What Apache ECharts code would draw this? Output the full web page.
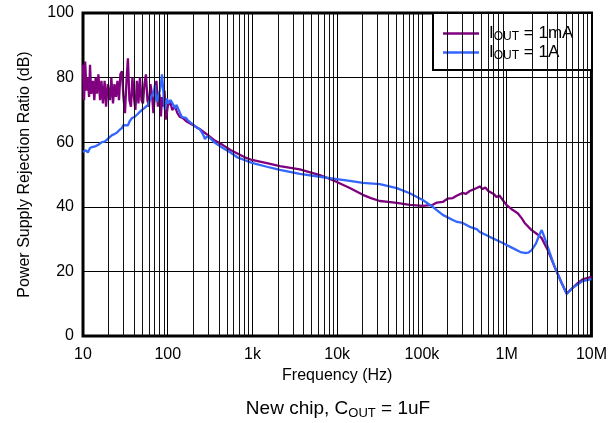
<!DOCTYPE html>
<html>
<head>
<meta charset="utf-8">
<script src="https://cdn.jsdelivr.net/npm/echarts@6/dist/echarts.min.js"></script>
<style>
  html, body { margin: 0; padding: 0; background: #fff; }
  #chart { width: 610px; height: 423px; }
</style>
</head>
<body>
<div id="chart"></div>
<script>
// PSRR vs frequency, IOUT = 1mA
const freq1mA = [
  10, 10.3, 10.6, 11.0, 11.4, 11.8, 12.1, 12.5, 13.1, 13.6, 14.1, 14.6, 15.2, 15.9, 16.5, 17.2,
  18.0, 18.7, 19.6, 20.8, 21.6, 22.6, 23.5, 24.5, 25.5, 26.6, 27.6, 28.8, 30.0, 31.3, 32.6, 33.9,
  35.3, 36.8, 38.3, 39.9, 41.5, 43.3, 45.1, 47.0, 49.0, 51.0, 53.1, 55.3, 57.6, 60.0, 62.5, 65.1,
  67.8, 70.6, 73.5, 76.6, 79.8, 83.1, 85.5, 87.8, 91.5, 95.2, 100, 106, 113, 122, 130, 139, 150, 165,
  198, 240, 298, 360, 448, 550, 655, 800, 984, 1479, 2105, 3620, 6237, 8185, 9890, 14080, 20050,
  25000, 31780, 40000, 50440, 71800, 102000, 134000, 150000, 176000, 200000, 231000, 260000,
  303000, 330000, 366000, 400000, 443000, 460000, 481000, 520000, 560000, 600000, 631000, 700000,
  760000, 820000, 898000, 1.0e6, 1.18e6, 1.35e6, 1.5e6, 1.63e6, 1.8e6, 1.97e6, 2.3e6, 2.59e6,
  2.8e6, 3.05e6, 3.68e6, 4.45e6, 5.1e6, 6.0e6, 7.0e6, 7.87e6, 1.0e7
];
const psrr1mA = [
  84, 73, 85, 76, 80, 74, 84, 75, 79, 73, 80, 75, 81, 73, 79, 72,
  79, 71, 78, 73, 80, 72, 78, 74, 79, 73, 81, 82, 74, 69, 79, 86,
  73, 71, 80, 74, 70, 79, 72, 80, 73, 72, 78, 81, 73, 71, 78, 75,
  69, 75, 79, 71, 75, 68, 74, 71, 76, 67, 71, 73, 70, 71, 69, 67.8, 67.5, 66.5,
  65.3, 64, 62.2, 60.5, 59.1, 57.6, 56.6, 55.4, 54.5, 53.5, 52.6, 51.6, 49.8, 48.6, 47.7, 45.8, 43.7,
  42.7, 41.8, 41.5, 41.2, 40.6, 40.3, 40.6, 41.3, 41.5, 42.5, 42.7, 43.5,
  44.3, 44.0, 44.9, 45.3, 45.8, 45.2, 46.3, 45.5, 46.0, 45.0, 44.6, 44.0,
  43.0, 43.5, 42.1, 40.5, 39, 38, 36.5, 35, 33.8, 32.8, 31.5, 30.3,
  28.5, 26.6, 21.4, 16.4, 13.2, 14.9, 16.5, 17.5, 18.3
];

// PSRR vs frequency, IOUT = 1A
const freq1A = [
  10, 10.4, 10.8, 11.4, 12.1, 12.8, 13.5, 14.2, 15.2, 16.7, 18.0, 19.2, 20.5, 22.0, 23.5, 25.2,
  27.0, 28.8, 30.0, 31.3, 33.9, 35.5, 37.9, 40.5, 43.3, 46.5, 49.7, 52.5, 55.3, 58.0, 60.0, 62.5,
  65.1, 68.7, 70.6, 72.5, 74.6, 77.5, 80.9, 83.0, 85.5, 88.0, 90.3, 92.7, 95.2, 97.9, 100.5, 103,
  108, 112, 117, 122, 127, 132, 140, 147, 155, 164, 173, 183, 198, 220, 240, 260, 275, 290, 310,
  360, 448, 550, 655, 800, 984, 1479, 2105, 3620, 6237, 9890, 14080, 20050, 31780, 50440, 71800,
  102000, 134000, 176000, 231000, 260000, 303000, 366000, 443000, 481000, 631000, 898000,
  1.18e6, 1.45e6, 1.63e6, 1.8e6, 1.97e6, 2.2e6, 2.45e6, 2.59e6, 2.75e6, 3.05e6, 3.68e6, 4.45e6,
  5.1e6, 6.0e6, 7.87e6, 1.0e7
];
const psrr1A = [
  57, 56.5, 57.5, 56.8, 58.2, 58.5, 58.0, 58.8, 59.2, 60, 60.2, 60.8, 61.5, 62.2, 62.5, 63,
  63.8, 64.4, 65.3, 65.5, 65.2, 66.5, 67.5, 67.8, 68.5, 69.3, 70, 70.5, 71, 71.5, 72.4, 73.0,
  74.5, 75.5, 77.7, 74, 72.5, 74.5, 76, 78, 81, 77, 73, 70, 72, 73.5, 72.0, 71.5,
  73, 72.5, 71.5, 70.5, 71.5, 71.2, 69, 67.8, 68, 67.5, 66.8, 66.2, 65.5, 64.5, 64, 62.5, 61, 61.8, 61.5,
  59.8, 58.2, 56.8, 55.4, 54.5, 53.6, 52.4, 51.4, 50.2, 49.3, 48.6, 48, 47.4, 47, 45.8, 44.2,
  42.1, 40, 37.5, 35.9, 35.3, 35, 33.8, 33.1, 32.2, 30.7, 28.8,
  27.2, 26.0, 25.7, 25.8, 26.6, 28.5, 31.5, 32.8, 31, 27.6, 21.4, 16.4,
  13, 14.9, 17, 17.6
];

const decadeLabels = ['10', '100', '1k', '10k', '100k', '1M', '10M'];
const minorGridFreqs = [];
for (let d = 10; d < 1e7; d *= 10) {
  for (let m = 2; m <= 9; m++) minorGridFreqs.push(d * m);
}

const seriesNames = ['IOUT = 1mA', 'IOUT = 1A'];
const legendRich = {
  'IOUT = 1mA': '{i|I}{s|OUT}{m| = 1mA}',
  'IOUT = 1A': '{i|I}{s|OUT}{m| = 1A}'
};

const FONT = "'Liberation Sans', Arial, Helvetica, sans-serif";

function pairs(xs, ys) { return xs.map((x, i) => [x, ys[i]]); }

const chart = echarts.init(document.getElementById('chart'), null, { renderer: 'canvas' });

chart.setOption({
  animation: false,
  backgroundColor: '#fff',
  textStyle: { fontFamily: FONT, color: '#000' },
  grid: {
    left: 83, right: 18, top: 13, bottom: 87,
    show: true, borderColor: '#000', borderWidth: 3, backgroundColor: 'transparent'
  },
  title: {
    text: '{m|New chip, C}{s|OUT}{m| = 1uF}',
    left: 333, top: 394, textAlign: 'center',
    textStyle: {
      fontWeight: 'normal',
      rich: {
        m: { fontFamily: FONT, fontSize: 19, fontWeight: 'normal', color: '#000', lineHeight: 20 },
        s: { fontFamily: FONT, fontSize: 13, fontWeight: 'normal', color: '#000', lineHeight: 14, padding: [9, 0, 0, 0] }
      }
    }
  },
  legend: {
    data: seriesNames,
    orient: 'vertical',
    left: 443, top: 24,
    padding: 0,
    icon: 'rect',
    itemWidth: 36, itemHeight: 2.5, itemGap: 0,
    formatter: name => legendRich[name],
    textStyle: {
      rich: {
        i: { fontFamily: FONT, fontSize: 17, color: '#000', lineHeight: 19, padding: [0, 0, 0, 5] },
        m: { fontFamily: FONT, fontSize: 17, color: '#000', lineHeight: 19 },
        s: { fontFamily: FONT, fontSize: 12, color: '#000', lineHeight: 12, padding: [7, 0, 0, 0] }
      }
    },
    z: 5
  },
  graphic: [{
    type: 'rect', z: 4,
    shape: { x: 433, y: 13, width: 159, height: 57 },
    style: { fill: '#fff', stroke: '#000', lineWidth: 2 }
  }],
  xAxis: {
    type: 'log', logBase: 10, min: 10, max: 1e7,
    name: 'Frequency (Hz)', nameLocation: 'middle', nameGap: 30,
    nameTextStyle: { fontFamily: FONT, fontSize: 16, color: '#000' },
    axisLine: { show: false },
    axisTick: { show: false },
    axisLabel: {
      fontFamily: FONT, fontSize: 16, color: '#000', margin: 11,
      formatter: v => decadeLabels[Math.round(Math.log10(v)) - 1]
    },
    splitLine: { show: true, lineStyle: { color: '#000', width: 1 } }
  },
  yAxis: {
    type: 'value', min: 0, max: 100, interval: 20,
    name: 'Power Supply Rejection Ratio (dB)', nameLocation: 'middle', nameGap: 50,
    nameTextStyle: { fontFamily: FONT, fontSize: 16, color: '#000' },
    axisLine: { show: false },
    axisTick: { show: false },
    axisLabel: { fontFamily: FONT, fontSize: 16, color: '#000', margin: 9 },
    splitLine: { show: true, lineStyle: { color: '#000', width: 1 } }
  },
  series: [
    {
      name: 'minor-grid', type: 'line', data: [], z: 1, silent: true,
      markLine: {
        silent: true, symbol: ['none', 'none'], animation: false,
        label: { show: false },
        lineStyle: { color: '#111', width: 1, type: 'solid' },
        emphasis: { disabled: true },
        data: minorGridFreqs.map(f => ({ xAxis: f }))
      }
    },
    {
      name: seriesNames[0], type: 'line', z: 2,
      data: pairs(freq1mA, psrr1mA),
      showSymbol: false, symbol: 'none',
      lineStyle: { color: '#800080', width: 2.3 },
      itemStyle: { color: '#800080' }
    },
    {
      name: seriesNames[1], type: 'line', z: 3,
      data: pairs(freq1A, psrr1A),
      showSymbol: false, symbol: 'none',
      lineStyle: { color: '#3366ff', width: 2.3 },
      itemStyle: { color: '#3366ff' }
    }
  ]
});
</script>
</body>
</html>
